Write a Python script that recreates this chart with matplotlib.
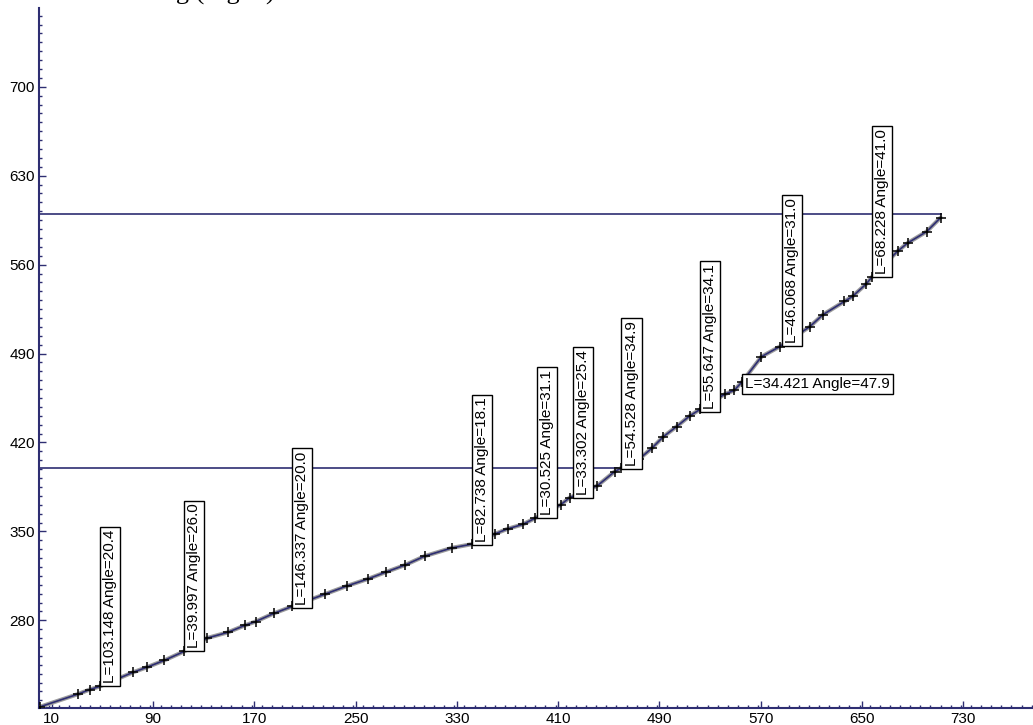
import matplotlib
matplotlib.use("Agg")
import matplotlib.pyplot as plt
from matplotlib.ticker import MultipleLocator

plt.rcParams["font.family"] = ["Liberation Sans", "DejaVu Sans"]

# traced path (x, y) with a marker at every vertex
path_x = [1, 31, 40, 48, 74, 85, 99, 114.5, 132.5, 149, 162.5, 171, 185.5, 200,
          225.5, 243, 259.5, 274, 289, 304.5, 326, 342, 360, 370, 382, 392,
          412, 419, 441, 454.5, 460, 474, 484, 493, 503.5, 514, 522, 541.5,
          549, 555.5, 570.5, 585, 608.5, 619, 636, 642.5, 653.5, 657.5, 678,
          686, 701, 712]
path_y = [212, 222, 225.5, 228, 239, 243, 248.5, 255.5, 266, 270.5, 276, 279,
          285.5, 291, 300.5, 307, 312.5, 318, 323.5, 330.5, 337, 340, 348, 352,
          355.5, 360.5, 371, 376.5, 386, 397, 400, 407, 415.5, 424.5, 432.5,
          441, 446, 458, 461, 468, 487.5, 495.5, 511, 520.5, 531, 535, 545,
          550, 570.5, 577, 586, 597]

# segment annotations: anchor point, text, orientation
label_x = [48, 114.5, 200, 342, 393, 421.5, 460, 522, 555.5, 587, 658]
label_y = [228, 255.5, 290, 339, 360.5, 376.5, 399, 444, 458.3, 496, 550]
label_text = ["L=103.148 Angle=20.4", "L=39.997 Angle=26.0",
              "L=146.337 Angle=20.0", "L=82.738 Angle=18.1",
              "L=30.525 Angle=31.1", "L=33.302 Angle=25.4",
              "L=54.528 Angle=34.9", "L=55.647 Angle=34.1",
              "L=34.421 Angle=47.9", "L=46.068 Angle=31.0",
              "L=68.228 Angle=41.0"]
label_rot = [90, 90, 90, 90, 90, 90, 90, 90, 0, 90, 90]

# reference levels
level_y = [600, 400]
level_end = [712, 460]

navy = "#2E2E72"

fig = plt.figure(figsize=(10.33, 7.25), dpi=100)
ax = fig.add_axes([39 / 1033, 17 / 725, 994 / 1033, 700 / 725])

for y, xe in zip(level_y, level_end):
    ax.plot([0, xe], [y, y], color=navy, lw=1.2, zorder=2)

ax.plot(path_x, path_y, color="#9C9C9C", lw=3.0, zorder=3,
        solid_capstyle="round")
ax.plot(path_x, path_y, color=navy, lw=1.2, zorder=4)
ax.plot(path_x, path_y, ls="none", marker="+", ms=7, mew=1.1,
        color="black", zorder=5)

pad = 0.2
fs = 11
for x, y, s, r in zip(label_x, label_y, label_text, label_rot):
    off = pad * fs
    ax.annotate(s, (x, y), xytext=(off, off), textcoords="offset points",
                rotation=r, ha="left", va="bottom", fontsize=fs,
                bbox=dict(boxstyle="square,pad=%g" % pad, fc="white",
                          ec="black", lw=1.0),
                zorder=6)

ax.set_xlim(0, 785)
ax.set_ylim(211, 762)

ax.spines["top"].set_visible(False)
ax.spines["right"].set_visible(False)
for side in ("left", "bottom"):
    ax.spines[side].set_color(navy)
    ax.spines[side].set_linewidth(1.5)

ax.set_xticks(range(10, 731, 80))
ax.set_yticks(range(280, 701, 70))
ax.xaxis.set_minor_locator(MultipleLocator(8))
ax.yaxis.set_minor_locator(MultipleLocator(7))
ax.tick_params(which="both", direction="in", color=navy, width=1.0)
ax.tick_params(which="major", length=5, labelsize=11, pad=3)
ax.tick_params(which="minor", length=2.5)

# caption line above the plot, mostly out of frame
fig.text(275 / 1033, 1.0, "Drawing (Fig. 6)", ha="right",
         va="baseline", fontsize=19, family="Liberation Serif")

fig.savefig("out.png", dpi=100)
